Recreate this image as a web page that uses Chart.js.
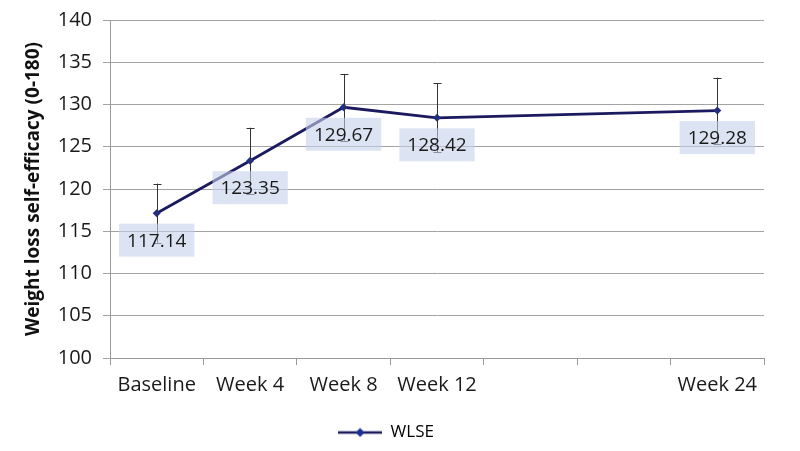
<!DOCTYPE html>
<html>
<head>
<meta charset="utf-8">
<script src="https://cdn.jsdelivr.net/npm/chart.js@4/dist/chart.umd.min.js"></script>
<style>
html,body{margin:0;padding:0;background:#fff;}
#wrap{width:800px;height:451px;}
</style>
</head>
<body>
<div id="wrap"><canvas id="c" width="800" height="451"></canvas></div>
<script>
const categories = ['Baseline', 'Week 4', 'Week 8', 'Week 12', '', '', 'Week 24'];
const wlse = [117.14, 123.35, 129.67, 128.42, null, null, 129.28];
const wlseError = [3.5, 3.9, 3.95, 4.1, null, null, 3.9];
const yTicks = [100, 105, 110, 115, 120, 125, 130, 135, 140];
const seriesName = 'WLSE';
const yTitle = 'Weight loss self-efficacy (0-180)';

const FONT = "'Open Sans', sans-serif";
const LINE = '#1c1a5e';
const MARK = '#1f2f8f';

// legend swatch: line with diamond
const sw = document.createElement('canvas');
sw.width = 44; sw.height = 12;
(function(){
  const g = sw.getContext('2d');
  g.strokeStyle = LINE; g.lineWidth = 2.5;
  g.beginPath(); g.moveTo(0, 6); g.lineTo(44, 6); g.stroke();
  g.fillStyle = MARK;
  g.beginPath(); g.moveTo(22, 1.5); g.lineTo(26.5, 6); g.lineTo(22, 10.5); g.lineTo(17.5, 6); g.closePath(); g.fill();
})();

const errorBars = {
  id: 'errorBars',
  afterDatasetsDraw(chart) {
    const ctx = chart.ctx;
    const meta = chart.getDatasetMeta(0);
    const y = chart.scales.y;
    ctx.save();
    ctx.strokeStyle = '#333';
    ctx.lineWidth = 1;
    meta.data.forEach((pt, i) => {
      const v = wlse[i], e = wlseError[i];
      if (v == null || e == null) return;
      const x = Math.round(pt.x) + 0.5;
      const yt = y.getPixelForValue(v + e), yb = y.getPixelForValue(v - e);
      ctx.beginPath();
      ctx.moveTo(x, yt); ctx.lineTo(x, yb);
      ctx.moveTo(x - 4, Math.round(yt) + 0.5); ctx.lineTo(x + 4, Math.round(yt) + 0.5);
      ctx.moveTo(x - 4, Math.round(yb) + 0.5); ctx.lineTo(x + 4, Math.round(yb) + 0.5);
      ctx.stroke();
    });
    ctx.restore();
  }
};

const dataLabels = {
  id: 'dataLabels',
  afterDraw(chart) {
    const ctx = chart.ctx;
    const meta = chart.getDatasetMeta(0);
    ctx.save();
    ctx.font = '19px ' + FONT;
    ctx.textAlign = 'center';
    ctx.textBaseline = 'middle';
    meta.data.forEach((pt, i) => {
      const v = wlse[i];
      if (v == null) return;
      const txt = v.toFixed(2);
      const w = ctx.measureText(txt).width + 16;
      const h = 33;
      const cx = pt.x, cy = pt.y + 27;
      ctx.fillStyle = 'rgba(196,209,234,0.6)';
      ctx.fillRect(cx - w / 2, cy - h / 2, w, h);
      ctx.fillStyle = '#1a1a1a';
      ctx.fillText(txt, cx, cy + 1);
    });
    ctx.restore();
  }
};

new Chart(document.getElementById('c'), {
  type: 'line',
  data: {
    labels: categories,
    datasets: [{
      label: seriesName,
      data: wlse,
      borderColor: LINE,
      backgroundColor: MARK,
      borderWidth: 2.8,
      pointStyle: 'rectRot',
      pointRadius: 4,
      pointBackgroundColor: MARK,
      pointBorderColor: MARK,
      pointBorderWidth: 0,
      spanGaps: true,
      tension: 0
    }]
  },
  options: {
    responsive: false,
    animation: false,
    layout: { padding: { left: 8, right: 36, top: 2, bottom: 0 } },
    plugins: {
      legend: {
        position: 'bottom',
        labels: {
          font: { family: FONT, size: 17 },
          color: '#1a1a1a',
          usePointStyle: true,
          pointStyleWidth: 44,
          padding: 8,
          generateLabels: () => [{ text: seriesName, pointStyle: sw, fillStyle: MARK, strokeStyle: LINE, lineWidth: 0, datasetIndex: 0 }]
        }
      },
      tooltip: { enabled: false }
    },
    scales: {
      x: {
        type: 'category',
        offset: true,
        grid: { display: true, drawOnChartArea: false, offset: true, tickLength: 7, color: '#999' },
        border: { color: '#999', width: 1 },
        ticks: { font: { family: FONT, size: 20 }, color: '#1a1a1a', padding: 8, maxRotation: 0, autoSkip: false },
        afterFit(s) { s.height = 58; }
      },
      y: {
        min: 100, max: 140,
        afterBuildTicks(s) { s.ticks = yTicks.map(v => ({ value: v })); },
        grid: { color: '#a3a3a3', tickLength: 7 },
        border: { color: '#999', width: 1 },
        ticks: { font: { family: FONT, size: 20, lineHeight: 0.9 }, color: '#1a1a1a', padding: 11 },
        title: { display: true, text: yTitle, font: { family: FONT, size: 19, weight: 'bold' }, color: '#111', padding: { top: 14, bottom: 4 } },
        afterFit(s) { s.width = 102; }
      }
    }
  },
  plugins: [errorBars, dataLabels]
});
</script>
</body>
</html>
